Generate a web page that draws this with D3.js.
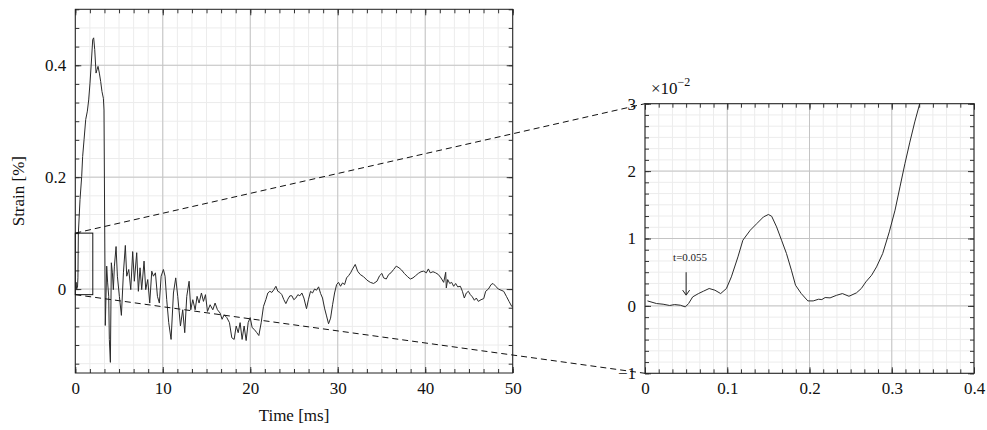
<!DOCTYPE html>
<html>
<head>
<meta charset="utf-8">
<script src="https://cdn.jsdelivr.net/npm/d3@7"></script>
<style>
  body { margin: 0; background: #fff; }
  svg { font-family: "Liberation Serif", "DejaVu Serif", serif; }
  .tick text { font-family: "Liberation Serif", "DejaVu Serif", serif; font-size: 17px; fill: #111; }
</style>
</head>
<body>
<script>
// full record: time [ms] and strain [%]
const leftTime = [0, 0.1, 0.15, 0.25, 0.3, 0.35, 0.54, 0.73, 0.84, 1.0, 1.19, 1.38, 1.53, 1.68, 1.83, 1.99, 2.1, 2.22,
  2.37, 2.48, 2.6, 2.75, 2.9, 3.05, 3.21, 3.28, 3.43, 3.59, 3.7, 3.82, 3.89, 4.01, 4.12, 4.24, 4.35, 4.47, 4.66, 4.81,
  5.04, 5.27, 5.5, 5.72, 5.88, 6.11, 6.34, 6.56, 6.75, 7.02, 7.21, 7.4, 7.59, 7.86, 8.05, 8.28, 8.51, 8.74, 8.93, 9.16,
  9.39, 9.61, 9.81, 10.07, 10.26, 10.45, 10.68, 10.95, 11.22, 11.48, 11.71, 12.02, 12.28, 12.51, 12.74, 13.01, 13.2,
  13.43, 13.7, 13.92, 14.15, 14.42, 14.65, 14.88, 15.11, 15.41, 15.72, 15.98, 16.25, 16.56, 16.78, 17.01, 17.32, 17.62,
  17.89, 18.16, 18.39, 18.62, 18.84, 19.07, 19.3, 19.53, 19.76, 19.99, 20.22, 20.45, 20.75, 20.98, 21.25, 21.51, 21.78,
  22.01, 22.24, 22.47, 22.7, 22.93, 23.15, 23.38, 23.61, 23.84, 24.07, 24.3, 24.53, 24.76, 24.98, 25.21, 25.44, 25.67,
  25.9, 26.13, 26.43, 26.66, 26.89, 27.12, 27.35, 27.58, 27.81, 28.04, 28.26, 28.49, 28.72, 28.95, 29.18, 29.41, 29.64,
  29.87, 30.09, 30.32, 30.55, 30.78, 31.01, 31.24, 31.47, 31.7, 32.0, 32.27, 32.57, 32.96, 33.34, 33.72, 34.1, 34.48,
  34.79, 35.05, 35.24, 35.55, 35.82, 36.08, 36.39, 36.69, 37.0, 37.3, 37.61, 37.99, 38.3, 38.6, 38.91, 39.21, 39.52,
  39.82, 40.13, 40.36, 40.58, 40.89, 41.19, 41.5, 41.8, 42.11, 42.34, 42.41, 42.57, 42.8, 43.02, 43.25, 43.48, 43.71,
  44.02, 44.25, 44.47, 44.7, 44.93, 45.16, 45.39, 45.62, 45.84, 46.07, 46.38, 46.69, 46.91, 47.22, 47.53, 47.75, 48.06,
  48.36, 48.67, 48.97, 49.28, 49.58, 49.89, 50.0];
const leftStrain = [0.002, 0.012, 0.0, 0.003, 0.02, 0.1, 0.16, 0.201, 0.237, 0.267, 0.303, 0.318, 0.338, 0.368, 0.404,
  0.446, 0.449, 0.428, 0.386, 0.392, 0.398, 0.386, 0.371, 0.353, 0.341, 0.32, -0.065, 0.041, 0.011, -0.013, -0.09,
  -0.131, 0.047, 0.029, -0.001, 0.041, 0.076, 0.023, -0.013, -0.047, 0.029, 0.078, 0.023, 0.035, -0.001, 0.067, 0.014,
  0.065, -0.004, 0.038, -0.001, 0.05, -0.001, 0.017, -0.025, 0.032, 0.023, 0.029, -0.013, -0.025, 0.023, 0.035, 0.023,
  -0.019, -0.06, -0.09, -0.007, 0.02, -0.013, -0.066, -0.037, -0.078, -0.013, 0.014, -0.037, -0.019, -0.037, -0.013,
  -0.025, -0.007, -0.022, -0.01, -0.04, -0.028, -0.037, -0.025, -0.037, -0.043, -0.054, -0.046, -0.051, -0.06, -0.087,
  -0.09, -0.066, -0.078, -0.06, -0.09, -0.066, -0.092, -0.06, -0.051, -0.069, -0.072, -0.078, -0.083, -0.06, -0.031,
  -0.019, -0.007, -0.004, -0.006, -0.001, 0.005, -0.004, -0.006, -0.01, -0.019, -0.026, -0.018, -0.012, -0.012,
  -0.019, -0.016, -0.01, -0.012, -0.007, -0.016, -0.035, -0.018, -0.004, -0.007, 0.0, -0.002, 0.004, -0.008, -0.016,
  -0.034, -0.048, -0.062, -0.052, -0.028, -0.007, 0.008, 0.012, 0.005, 0.011, 0.008, 0.02, 0.024, 0.029, 0.036, 0.044,
  0.032, 0.026, 0.022, 0.016, 0.012, 0.01, 0.014, 0.024, 0.028, 0.02, 0.018, 0.026, 0.029, 0.035, 0.041, 0.038, 0.034,
  0.028, 0.022, 0.018, 0.02, 0.024, 0.028, 0.031, 0.032, 0.029, 0.036, 0.029, 0.031, 0.029, 0.026, 0.02, 0.012, 0.03,
  0.002, 0.017, 0.01, 0.012, 0.005, 0.01, 0.004, 0.005, -0.004, -0.016, -0.007, -0.004, -0.01, -0.014, -0.02, -0.016,
  -0.022, -0.019, -0.017, -0.004, 0.0, 0.008, 0.01, 0.005, 0.0, -0.002, -0.004, -0.013, -0.022, -0.031, -0.032];

// detail of the onset: time [ms] and strain [x10^-2 %]
const zoomTime = [0.003, 0.014, 0.022, 0.03, 0.036, 0.043, 0.049, 0.053, 0.058, 0.065, 0.071, 0.078, 0.085, 0.092,
  0.099, 0.105, 0.113, 0.119, 0.128, 0.136, 0.144, 0.15, 0.154, 0.16, 0.166, 0.172, 0.178, 0.183, 0.19, 0.198, 0.2045,
  0.211, 0.215, 0.219, 0.225, 0.233, 0.24, 0.248, 0.257, 0.263, 0.2685, 0.2755, 0.2815, 0.289, 0.297, 0.304, 0.31,
  0.316, 0.322, 0.328, 0.334, 0.338];
const zoomStrain = [0.074, 0.035, 0.025, 0.006, 0.02, 0.01, -0.015, 0.035, 0.134, 0.183, 0.218, 0.258, 0.233, 0.183,
  0.258, 0.431, 0.727, 0.975, 1.123, 1.222, 1.32, 1.356, 1.33, 1.172, 0.975, 0.777, 0.53, 0.307, 0.183, 0.074, 0.074,
  0.099, 0.094, 0.124, 0.119, 0.158, 0.183, 0.143, 0.193, 0.258, 0.356, 0.455, 0.579, 0.777, 1.098, 1.42, 1.766, 2.11,
  2.43, 2.73, 3.0, 3.15];

const leftXTicks = [0, 10, 20, 30, 40, 50];
const leftYTicks = [0, 0.2, 0.4];
const rightXTicks = [0, 0.1, 0.2, 0.3, 0.4];
const rightYTicks = [-1, 0, 1, 2, 3];

// zoom window drawn on the left plot [ms, %]
const boxTime = [0, 2];
const boxStrain = [-0.01, 0.1];
const onsetTime = 0.05;
const onsetLabel = "t=0.055";

const w = 987;
const h = 430;
const svg = d3.select("body").append("svg").attr("width", w).attr("height", h);

const fmt = (d) => (d === 0 ? "0" : String(d).replace("-", "\u2212"));

// minor values: 5 minor ticks between majors
function minors(ticks, domain) {
  const step = (ticks[1] - ticks[0]) / 6;
  const out = [];
  for (let k = Math.ceil((domain[0] - 1e-9) / step); k * step <= domain[1] + 1e-9; k++) out.push(k * step);
  return out;
}

function panel(xScale, yScale, xTicks, yTicks, id) {
  const [x0, x1] = xScale.range();
  const [y0, y1] = yScale.range(); // y0 bottom, y1 top
  const g = svg.append("g");
  const xMin = minors(xTicks, xScale.domain());
  const yMin = minors(yTicks, yScale.domain());

  // grid
  g.selectAll(".gx").data(xMin).enter().append("line")
    .attr("x1", (d) => xScale(d)).attr("x2", (d) => xScale(d))
    .attr("y1", y0).attr("y2", y1)
    .style("stroke", "#ececec");
  g.selectAll(".gy").data(yMin).enter().append("line")
    .attr("x1", x0).attr("x2", x1)
    .attr("y1", (d) => yScale(d)).attr("y2", (d) => yScale(d))
    .style("stroke", "#ececec");
  g.selectAll(".gxm").data(xTicks).enter().append("line")
    .attr("x1", (d) => xScale(d)).attr("x2", (d) => xScale(d))
    .attr("y1", y0).attr("y2", y1)
    .style("stroke", "#c4c4c4");
  g.selectAll(".gym").data(yTicks).enter().append("line")
    .attr("x1", x0).attr("x2", x1)
    .attr("y1", (d) => yScale(d)).attr("y2", (d) => yScale(d))
    .style("stroke", "#c4c4c4");

  // inward ticks on all four sides
  const sides = [
    [() => d3.axisBottom(xScale), `translate(0,${y0})`, xTicks, xMin, true],
    [() => d3.axisTop(xScale), `translate(0,${y1})`, xTicks, xMin, false],
    [() => d3.axisLeft(yScale), `translate(${x0},0)`, yTicks, yMin, true],
    [() => d3.axisRight(yScale), `translate(${x1},0)`, yTicks, yMin, false],
  ];
  sides.forEach(([mk, tr, major, minor, lab]) => {
    g.append("g").attr("transform", tr)
      .call(mk().tickValues(minor).tickSize(-4).tickFormat(""))
      .call((s) => s.select(".domain").remove());
    g.append("g").attr("transform", tr)
      .call(mk().tickValues(major).tickSize(-6).tickPadding(9).tickFormat(lab ? fmt : ""))
      .call((s) => s.select(".domain").remove());
  });
  g.selectAll(".tick line").style("stroke", "#333");

  svg.append("clipPath").attr("id", id).append("rect")
    .attr("x", x0).attr("y", y1).attr("width", x1 - x0).attr("height", y0 - y1);
  return g;
}

// left plot
const xL = d3.scaleLinear().domain([0, 50]).range([75.3, 512.7]);
const yL = d3.scaleLinear().domain([-0.15, 0.5]).range([373, 9.3]);
const gL = panel(xL, yL, leftXTicks, leftYTicks, "clipL");

gL.append("path")
  .datum(leftTime.map((t, i) => [t, leftStrain[i]]))
  .attr("clip-path", "url(#clipL)")
  .attr("d", d3.line().x((d) => xL(d[0])).y((d) => yL(d[1])))
  .style("fill", "none").style("stroke", "#2a2a2a").style("stroke-width", 1);

gL.append("rect")
  .attr("x", xL(boxTime[0])).attr("y", yL(boxStrain[1]))
  .attr("width", xL(boxTime[1]) - xL(boxTime[0]))
  .attr("height", yL(boxStrain[0]) - yL(boxStrain[1]))
  .style("fill", "none").style("stroke", "#111").style("stroke-width", 1);

gL.append("rect")
  .attr("x", 75.3).attr("y", 9.3).attr("width", 512.7 - 75.3).attr("height", 373 - 9.3)
  .style("fill", "none").style("stroke", "#222").style("stroke-width", 1);

svg.append("text")
  .attr("transform", `translate(24,${(9.3 + 373) / 2}) rotate(-90)`)
  .attr("text-anchor", "middle").style("font-size", "17px").style("fill", "#111")
  .text("Strain [%]");
svg.append("text")
  .attr("x", (75.3 + 512.7) / 2).attr("y", 421)
  .attr("text-anchor", "middle").style("font-size", "17px").style("fill", "#111")
  .text("Time [ms]");

// right plot
const xR = d3.scaleLinear().domain([0, 0.4]).range([645, 974]);
const yR = d3.scaleLinear().domain([-1, 3]).range([373.3, 103.7]);
const gR = panel(xR, yR, rightXTicks, rightYTicks, "clipR");

gR.append("path")
  .datum(zoomTime.map((t, i) => [t, zoomStrain[i]]))
  .attr("clip-path", "url(#clipR)")
  .attr("d", d3.line().x((d) => xR(d[0])).y((d) => yR(d[1])))
  .style("fill", "none").style("stroke", "#2a2a2a").style("stroke-width", 1);

gR.append("rect")
  .attr("x", 645).attr("y", 103.7).attr("width", 974 - 645).attr("height", 373.3 - 103.7)
  .style("fill", "none").style("stroke", "#222").style("stroke-width", 1);

const expo = svg.append("text").attr("x", 651).attr("y", 94)
  .style("font-size", "17px").style("fill", "#111");
expo.append("tspan").text("\u00d710");
expo.append("tspan").attr("dy", -8).style("font-size", "12px").text("\u22122");

// onset marker
svg.append("text")
  .attr("x", xR(onsetTime) + 4).attr("y", yR(0.66))
  .attr("text-anchor", "middle").style("font-size", "11px").style("fill", "#222")
  .text(onsetLabel);
svg.append("line")
  .attr("x1", xR(onsetTime)).attr("x2", xR(onsetTime))
  .attr("y1", yR(0.5)).attr("y2", yR(0.16))
  .style("stroke", "#222").style("stroke-width", 1);
svg.append("path")
  .attr("d", `M${xR(onsetTime) - 3.5},${yR(0.16) - 5} L${xR(onsetTime)},${yR(0.16)} L${xR(onsetTime) + 3.5},${yR(0.16) - 5}`)
  .style("fill", "none").style("stroke", "#222").style("stroke-width", 1);

// connector lines from zoom box to the detail plot
const connectors = [
  [[xL(boxTime[0]), yL(boxStrain[1])], [xR(0), yR(3)]],
  [[xL(boxTime[0]), yL(boxStrain[0])], [xR(0), yR(-1)]],
];
svg.selectAll(".conn").data(connectors).enter().append("line")
  .attr("x1", (d) => d[0][0]).attr("y1", (d) => d[0][1])
  .attr("x2", (d) => d[1][0]).attr("y2", (d) => d[1][1])
  .style("stroke", "#111").style("stroke-width", 1).style("stroke-dasharray", "6,4");
</script>
</body>
</html>
